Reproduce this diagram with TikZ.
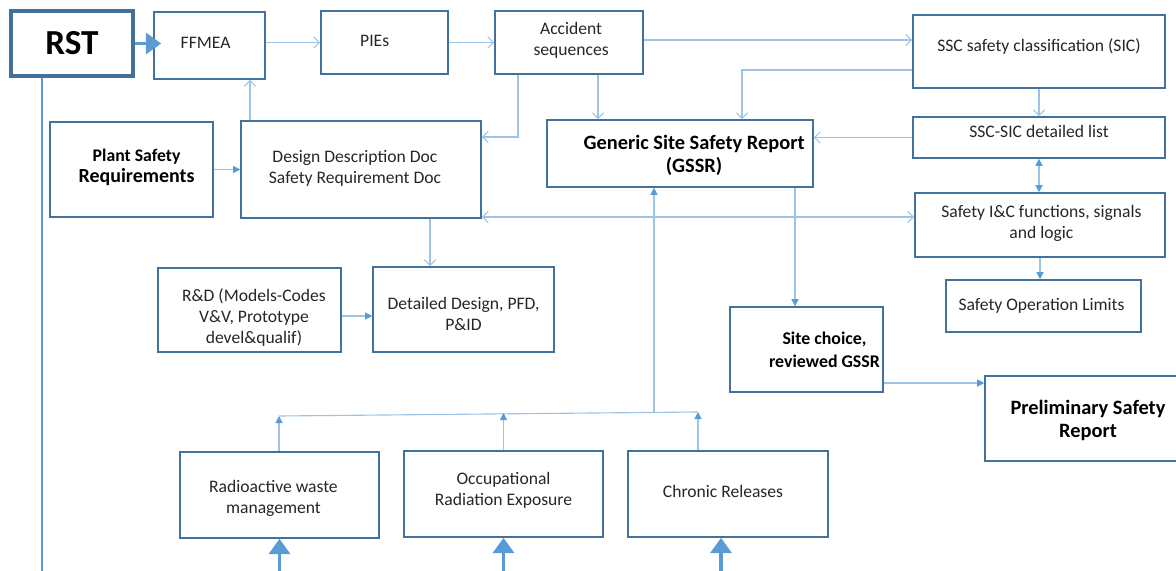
\documentclass[tikz,border=0pt]{standalone}
\usepackage{fontspec}
\setmainfont{Carlito}
\usetikzlibrary{calc, positioning, arrows.meta}
\def\px{0.025cm}
% move a box text by #1 to the right and #2 up
\newcommand\shifttext[3]{\raisebox{#2}[\height][\depth]{\hspace*{#1}\begin{tabular}{@{}c@{}}#3\end{tabular}\hspace*{-#1}}}
\definecolor{boxblue}{RGB}{65,113,156}
\definecolor{linkblue}{RGB}{157,195,230}
\definecolor{arrblue}{RGB}{91,155,213}
\tikzstyle{box}=[rectangle, draw=boxblue, line width=1.1pt, align=center, inner sep=2pt, text=black!85, font=\fontsize{12.5}{15}\selectfont]
\tikzstyle{bold box}=[box, text=black, font=\fontsize{14.5}{16.5}\selectfont\bfseries]
\tikzstyle{link}=[draw=linkblue, line width=0.8pt, -{Straight Barb[length=4pt,width=8pt]}]
\tikzstyle{both link}=[link, {Straight Barb[length=4pt,width=8pt]}-{Straight Barb[length=4pt,width=8pt]}]
\tikzstyle{flink}=[draw=linkblue, line width=0.8pt, -{Triangle[length=5pt,width=5pt,color=arrblue]}]
\tikzstyle{big arrow}=[draw=arrblue, line width=2.6pt, -{Triangle[length=11pt,width=15pt]}]
\tikzset{wh/.style 2 args={minimum width=#1*\px, minimum height=#2*\px}}

\begin{document}
\begin{tikzpicture}[x=\px, y=-\px]
\useasboundingbox (0,0) rectangle (1176,571);

% Top row
\node[box, wh={122}{65}, line width=2.2pt, text=black, font=\fontsize{25}{28}\selectfont\bfseries] (rst) at (72,43.5) {RST};
\node[box, wh={111}{67}] (ffmea) at (209.5,45.5) {\shifttext{-2.8pt}{1pt}{FFMEA}};
\node[box, wh={127}{63}] (pies) at (384.5,42.5) {\shifttext{-7pt}{0pt}{PIEs}};
\node[box, wh={148}{63}] (acc) at (569,42.5) {\shifttext{1.5pt}{1.5pt}{Accident\\sequences}};
\node[box, wh={252}{73}] (sic) at (1039,51.5) {\shifttext{0pt}{3.2pt}{SSC safety classification (SIC)}};

% Second row
\node[box, wh={163}{95}, text=black] (psr) at (131.5,169.5) {\shifttext{3.6pt}{1pt}{{\fontsize{12.6}{15.5}\selectfont\bfseries Plant Safety}\\{\fontsize{14.2}{15.5}\selectfont\bfseries Requirements}}};
\node[box, wh={240}{97}] (ddd) at (361,169.5) {\shifttext{-4.3pt}{0.4pt}{Design Description Doc\\Safety Requirement Doc}};
\node[bold box, wh={266}{67}] (gssr) at (680,153.5) {\shifttext{10pt}{-2pt}{Generic Site Safety Report\\(GSSR)}};
\node[box, wh={252}{41}] (siclist) at (1039,137.5) {\shifttext{0pt}{3.2pt}{SSC-SIC detailed list}};
\node[box, wh={250}{64}] (ic) at (1040,225) {\shifttext{1pt}{1pt}{Safety I\&C functions, signals\\and logic}};
\node[box, wh={195}{52}] (sol) at (1043.5,306) {\shifttext{-1.4pt}{0pt}{Safety Operation Limits}};

% Third row
\node[box, wh={183}{84}] (rd) at (249.5,310) {\shifttext{3.2pt}{-6pt}{R\&D (Models-Codes\\V\&V, Prototype\\devel\&qualif)}};
\node[box, wh={181}{85}] (det) at (463.5,309.5) {\shifttext{0pt}{-4.2pt}{Detailed Design, PFD,\\P\&ID}};
\node[bold box, wh={153}{85}, font=\fontsize{12.7}{16}\selectfont\bfseries] (site) at (806.5,349.5) {\shifttext{12.8pt}{-1.5pt}{Site choice,\\reviewed GSSR}};
\node[bold box, wh={206}{85}, font=\fontsize{14.5}{16.4}\selectfont\bfseries] (prelim) at (1088,418.5) {\shifttext{0pt}{-2pt}{Preliminary Safety\\Report}};

% Bottom row
\node[box, wh={199}{86}] (rad) at (279.5,495) {\shifttext{-4.3pt}{-2.8pt}{Radioactive waste\\management}};
\node[box, wh={199}{86}] (occ) at (503.5,494) {\shifttext{0pt}{2.5pt}{Occupational\\Radiation Exposure}};
\node[box, wh={200}{86}] (chr) at (728,494) {\shifttext{-3.6pt}{0.6pt}{Chronic Releases}};

% Links of the top part
\draw[big arrow] (rst.east) -- ($(rst.east -| ffmea.west)+(8,0)$);
\draw[link] (pies.west -| ffmea.east) -- (pies.west);
\draw[link] (pies.east) -- (acc.west);
\draw[link] ($(acc.east)+(0,-2.5)$) coordinate (a0) -- (a0 -| sic.west);
\draw[link] ($(sic.west)+(0,18.5)$) -| ($(gssr.north)+(62,0)$);
\draw[link] ($(acc.south)+(29,0)$) coordinate (a1) -- (a1 |- gssr.north);
\draw[link] ($(acc.south)+(-51,0)$) |- ($(ddd.east)+(0,-32.5)$);
\draw[link] ($(ddd.north)+(-111,0)$) coordinate (d1) -- (d1 |- ffmea.south);
\draw[flink] (psr.east) -- (psr.east -| ddd.west);
\draw[link] (sic.south) -- (siclist.north);
\draw[link] (siclist.west) -- (siclist.west -| gssr.east);
\draw[draw=linkblue, line width=0.8pt, {Triangle[length=5pt,width=5pt,color=arrblue]}-{Triangle[length=5pt,width=5pt,color=arrblue]}] (siclist.south) -- (siclist.south |- ic.north);
\draw[both link] ($(ic.west)+(0,-8)$) coordinate (i1) -- (i1 -| ddd.east);
\draw[flink] (ic.south) -- (ic.south |- sol.north);

% Links of the lower part
\draw[link] ($(ddd.south)+(69,0)$) coordinate (d2) -- (d2 |- det.north);
\draw[flink] ($(rd.east)+(0,6)$) coordinate (r1) -- (r1 -| det.west);
\draw[flink] ($(gssr.south)+(115,0)$) coordinate (g1) -- (g1 |- site.north);
\draw[flink] ($(site.east)+(0,33.5)$) coordinate (s1) -- (s1 -| prelim.west);

% Collecting line of the bottom boxes
\coordinate (busL) at (279,416);
\coordinate (busR) at (698,412);
\coordinate (bus) at (654,413);
\draw[draw=linkblue, line width=0.8pt] (busL) -- (busR);
\draw[flink] (rad.north -| busL) -- (busL);
\draw[flink] (occ.north) -- (occ.north |- bus);
\draw[flink] (chr.north -| busR) -- (busR);
\draw[flink] (bus) -- (bus |- gssr.south);

% Incoming arrows
\draw[big arrow] ($(rad.south)+(0,40)$) -- (rad.south);
\draw[big arrow] ($(occ.south)+(0,40)$) -- (occ.south);
\draw[big arrow] ($(chr.south)+(-7,40)$) coordinate (c1) -- (c1 |- chr.south);
\draw[draw=arrblue, line width=1.2pt] ($(rst.south)+(-30,0)$) -- ++(0,510);
\end{tikzpicture}
\end{document}
